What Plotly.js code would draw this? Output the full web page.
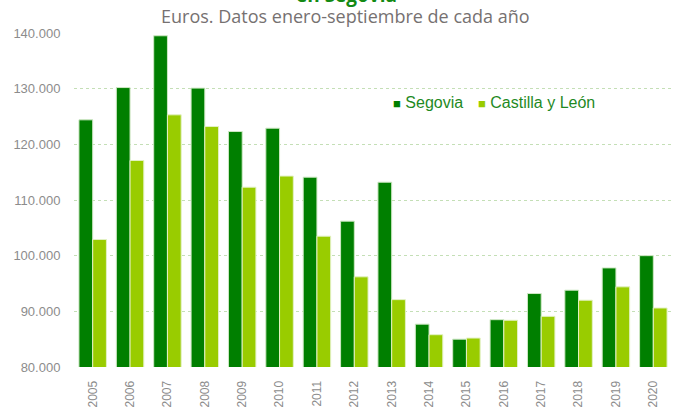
<!DOCTYPE html>
<html>
<head>
<meta charset="utf-8">
<script src="https://cdn.plot.ly/plotly-3.0.1.min.js"></script>
<style>html,body{margin:0;padding:0;background:#fff;}#chart{width:673px;height:409px;}</style>
</head>
<body>
<div id="chart"></div>
<script>
const years = ["2005","2006","2007","2008","2009","2010","2011","2012","2013","2014","2015","2016","2017","2018","2019","2020"];
const segovia = [124400,130200,139500,130100,122300,122900,114100,106200,113200,87700,85000,88500,93200,93800,97800,100000];
const castillaLeon = [102900,117100,125300,123200,112300,114300,103500,96200,92100,85800,85200,88400,89100,92000,94400,90600];
const seriesNames = ["Segovia","Castilla y León"];
const seriesColors = ["#007f00","#99cc00"];
const titleText = "en Segovia";
const subtitleText = "Euros. Datos enero-septiembre de cada año";

const traces = [
  {type:"bar", name:seriesNames[0], x:years, y:segovia,
   marker:{color:seriesColors[0], line:{color:"#cfe8c4", width:1}}},
  {type:"bar", name:seriesNames[1], x:years, y:castillaLeon,
   marker:{color:seriesColors[1], line:{color:"#e3f1c4", width:1}}}
];

// pixel -> paper helpers (plot area: x 74..672, y 33..367)
const px = v => (v - 74) / 598;
const py = v => (367 - v) / 334;

const legendAnn = seriesNames.map((n, i) => ({
  text:'<span style="color:' + seriesColors[i] + ';font-size:13px">■</span> ' + n,
  xref:"paper", yref:"paper", x:px(i === 0 ? 391 : 476), y:py(102),
  xanchor:"left", yanchor:"middle", showarrow:false,
  font:{size:16, color:"#1f8a1f", family:"Liberation Sans, Arial, sans-serif"}
}));

const layout = {
  width:673, height:409,
  margin:{l:74, r:1, t:33, b:42, pad:0},
  paper_bgcolor:"#fff", plot_bgcolor:"#fff",
  barmode:"group", bargap:0.265, bargroupgap:0,
  font:{family:"Liberation Sans, Arial, sans-serif", color:"#8c8c8c"},
  showlegend:false,
  xaxis:{type:"category", tickangle:-90, tickfont:{size:12, color:"#8c8c8c"},
         ticks:"outside", ticklen:8, tickcolor:"rgba(0,0,0,0)", showgrid:false, showline:false, zeroline:false},
  yaxis:{range:[80000,140000], dtick:10000, tickformat:",.0f",
         tickfont:{size:13, color:"#8c8c8c"},
         ticks:"outside", ticklen:10, tickcolor:"rgba(0,0,0,0)",
         showgrid:true, gridcolor:"#c4dfb6", griddash:"dot", gridwidth:1, zeroline:false, showline:false},
  separators:",.",
  annotations:[
    {text:"<b>"+titleText+"</b>", xref:"paper", yref:"paper", x:px(346), y:py(10), xanchor:"center", yanchor:"bottom",
     showarrow:false, font:{size:19, color:"#138a13", family:"Open Sans, sans-serif"}},
    {text:subtitleText, xref:"paper", yref:"paper", x:px(345), y:py(16), xanchor:"center", yanchor:"middle",
     showarrow:false, font:{size:18, color:"#767171", family:"Open Sans, sans-serif"}}
  ].concat(legendAnn)
};

Plotly.newPlot("chart", traces, layout, {displayModeBar:false, staticPlot:true});
</script>
</body>
</html>
